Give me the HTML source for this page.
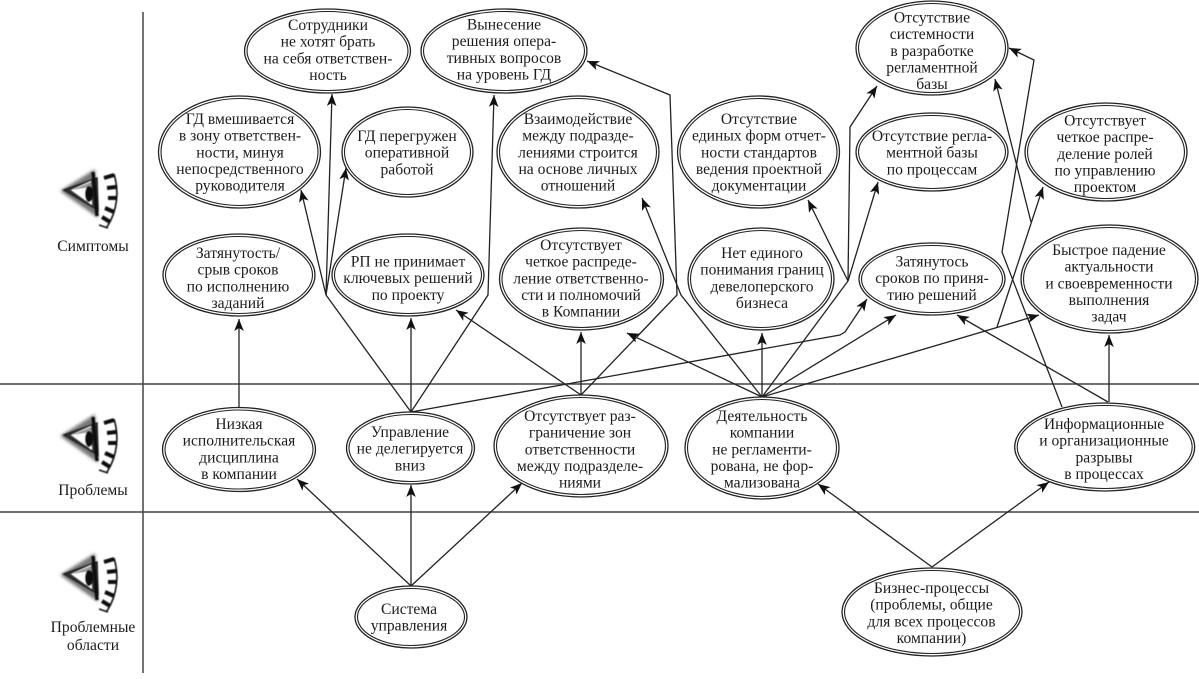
<!DOCTYPE html>
<html lang="ru"><head><meta charset="utf-8"><title>Диаграмма</title>
<style>
html,body{margin:0;padding:0;background:#fff;width:1199px;height:679px;overflow:hidden}
svg{display:block}
text{font-family:"Liberation Serif","DejaVu Serif",serif;font-size:15.6px;fill:#1c1c1c;text-anchor:middle}
.l{fill:none;stroke:#222;stroke-width:1.3}
.a{marker-end:url(#ar)}
.o{fill:#fff;stroke:#222;stroke-width:1.3}
.i{fill:none;stroke:#222;stroke-width:1.1}
.f{fill:none;stroke:#444;stroke-width:1.5}
</style></head><body>
<svg width="1199" height="679" viewBox="0 0 1199 679" xmlns="http://www.w3.org/2000/svg">
<defs>
<marker id="ar" markerUnits="userSpaceOnUse" markerWidth="15" markerHeight="12" refX="13" refY="6" orient="auto"><path d="M13,6 L1,1.2 L4,6 L1,10.8 z" fill="#111"/></marker>
<filter id="bl" x="-30%" y="-30%" width="160%" height="160%"><feGaussianBlur stdDeviation="1.5"/></filter>
<filter id="b2" x="-20%" y="-20%" width="140%" height="140%"><feGaussianBlur stdDeviation="0.55"/></filter>
<g id="eye">
<polygon points="0,19 32,-1 35,44" fill="#777" stroke="#777" stroke-width="2" filter="url(#bl)"/>
<g filter="url(#b2)">
<polygon points="2,18 35,6 36,38" fill="#333" stroke="#222" stroke-width="1.5"/>
<polygon points="9,18 29,9 30,33" fill="#fff"/>
<polygon points="10,18 29,10 29,15" fill="#999"/>
<ellipse cx="27" cy="22" rx="4" ry="8" fill="#0a0a0a"/>
<path d="M31,0 L35,44" stroke="#111" stroke-width="3.4" fill="none"/>
<path d="M42,6 L52,3 M45,16 L54,15 M46,26 L55,26 M43,36 L52,40 M40,45 L48,50" stroke="#0a0a0a" stroke-width="4" fill="none"/>
<path d="M52,2 C57,18 56,38 45,55" stroke="#111" stroke-width="1.6" fill="none"/>
<path d="M37,53 L46,56" stroke="#111" stroke-width="1.6" fill="none"/>
</g>
</g>
</defs>

<!-- frame -->
<path class="f" d="M143,12V673M0,384H1199M0,512H1199"/>

<!-- icons -->
<use href="#eye" x="62" y="172"/>
<use href="#eye" x="62" y="417"/>
<use href="#eye" x="62" y="556"/>

<text x="93" y="251">Симптомы</text>
<text x="93" y="495">Проблемы</text>
<text x="93" y="632">Проблемные</text>
<text x="93" y="650">области</text>

<!-- connectors -->
<path class="l a" d="M411,586L297,479"/>
<path class="l a" d="M411,586L411,485"/>
<path class="l a" d="M411,586L522,483"/>
<path class="l a" d="M932,567L818,484"/>
<path class="l a" d="M932,567L1049,482"/>
<path class="l a" d="M239,408L239,319"/>
<path class="l a" d="M411,412L411,318"/>
<path class="l" d="M411,412L326,295"/>
<path class="l a" d="M326,295L332,94"/>
<path class="l a" d="M326,295L346,168"/>
<path class="l a" d="M326,295L301,190"/>
<path class="l a" d="M411,412L488,295L494,95"/>
<path class="l a" d="M411,412L840,335L845,332L867,299"/>
<path class="l a" d="M581,395L581,332"/>
<path class="l a" d="M581,395L456,310"/>
<path class="l a" d="M581,395L677,295L670,95L587,61"/>
<path class="l a" d="M762,397L627,333"/>
<path class="l a" d="M762,397L762,333"/>
<path class="l a" d="M762,397L681,295L642,198"/>
<path class="l a" d="M762,397L896,315"/>
<path class="l a" d="M762,397L1039,315"/>
<path class="l" d="M762,397L848,281"/>
<path class="l a" d="M848,281L808,200"/>
<path class="l a" d="M848,281L878,182"/>
<path class="l a" d="M848,281L850,127L877,86"/>
<path class="l a" d="M997,327L1043,187"/>
<path class="l a" d="M1031,222L995,79"/>
<path class="l a" d="M1109,402L1109,335"/>
<path class="l a" d="M1108,402L957,315"/>
<path class="l a" d="M1062,407L1002,252L1034,60L1009,48"/>

<!-- ellipses -->
<ellipse class="o" cx="327.5" cy="51" rx="83" ry="42"/><ellipse class="i" cx="327.5" cy="51" rx="80.5" ry="39.5"/>
<ellipse class="o" cx="504" cy="51" rx="83" ry="42"/><ellipse class="i" cx="504" cy="51" rx="80.5" ry="39.5"/>
<ellipse class="o" cx="239.5" cy="152" rx="81" ry="56"/><ellipse class="i" cx="239.5" cy="152" rx="78.5" ry="53.5"/>
<ellipse class="o" cx="407.5" cy="152" rx="65.5" ry="45"/><ellipse class="i" cx="407.5" cy="152" rx="63" ry="42.5"/>
<ellipse class="o" cx="239" cy="275" rx="76" ry="41"/><ellipse class="i" cx="239" cy="275" rx="73.5" ry="38.5"/>
<ellipse class="o" cx="408" cy="275" rx="76" ry="41"/><ellipse class="i" cx="408" cy="275" rx="73.5" ry="38.5"/>
<ellipse class="o" cx="578" cy="152" rx="81" ry="56"/><ellipse class="i" cx="578" cy="152" rx="78.5" ry="53.5"/>
<ellipse class="o" cx="581.5" cy="279" rx="82" ry="51"/><ellipse class="i" cx="581.5" cy="279" rx="79.5" ry="48.5"/>
<ellipse class="o" cx="932" cy="48" rx="76" ry="47"/><ellipse class="i" cx="932" cy="48" rx="73.5" ry="44.5"/>
<ellipse class="o" cx="758.5" cy="152" rx="81" ry="56"/><ellipse class="i" cx="758.5" cy="152" rx="78.5" ry="53.5"/>
<ellipse class="o" cx="932" cy="152" rx="76" ry="39"/><ellipse class="i" cx="932" cy="152" rx="73.5" ry="36.5"/>
<ellipse class="o" cx="1106" cy="152" rx="81" ry="49"/><ellipse class="i" cx="1106" cy="152" rx="78.5" ry="46.5"/>
<ellipse class="o" cx="761" cy="279" rx="73" ry="51"/><ellipse class="i" cx="761" cy="279" rx="70.5" ry="48.5"/>
<ellipse class="o" cx="932" cy="279" rx="73" ry="36"/><ellipse class="i" cx="932" cy="279" rx="70.5" ry="33.5"/>
<ellipse class="o" cx="1109.5" cy="279" rx="88.5" ry="54"/><ellipse class="i" cx="1109.5" cy="279" rx="86" ry="51.5"/>
<ellipse class="o" cx="239" cy="449.5" rx="76.5" ry="42"/><ellipse class="i" cx="239" cy="449.5" rx="74" ry="39.5"/>
<ellipse class="o" cx="410.5" cy="448" rx="64" ry="36"/><ellipse class="i" cx="410.5" cy="448" rx="61.5" ry="33.5"/>
<ellipse class="o" cx="581" cy="446" rx="87" ry="51"/><ellipse class="i" cx="581" cy="446" rx="84.5" ry="48.5"/>
<ellipse class="o" cx="411" cy="617" rx="56" ry="31"/><ellipse class="i" cx="411" cy="617" rx="53.5" ry="28.5"/>
<ellipse class="o" cx="762" cy="448" rx="77" ry="51"/><ellipse class="i" cx="762" cy="448" rx="74.5" ry="48.5"/>
<ellipse class="o" cx="1104.7" cy="447" rx="90" ry="44"/><ellipse class="i" cx="1104.7" cy="447" rx="87.5" ry="41.5"/>
<ellipse class="o" cx="932" cy="612" rx="90" ry="44"/><ellipse class="i" cx="932" cy="612" rx="87.5" ry="41.5"/>

<!-- labels -->
<text y="30"><tspan x="328">Сотрудники</tspan><tspan x="328" dy="16.67">не хотят брать</tspan><tspan x="328" dy="16.67">на себя ответствен-</tspan><tspan x="328" dy="16.67">ность</tspan></text>
<text y="29.5"><tspan x="504">Вынесение</tspan><tspan x="504" dy="16.67">решения опера-</tspan><tspan x="504" dy="16.67">тивных вопросов</tspan><tspan x="504" dy="16.67">на уровень ГД</tspan></text>
<text y="124"><tspan x="240">ГД вмешивается</tspan><tspan x="240" dy="16.67">в зону ответствен-</tspan><tspan x="240" dy="16.67">ности, минуя</tspan><tspan x="240" dy="16.67">непосредственного</tspan><tspan x="240" dy="16.67">руководителя</tspan></text>
<text y="141"><tspan x="407">ГД перегружен</tspan><tspan x="407" dy="16.67">оперативной</tspan><tspan x="407" dy="16.67">работой</tspan></text>
<text y="258"><tspan x="238">Затянутость/</tspan><tspan x="238" dy="16.67">срыв сроков</tspan><tspan x="238" dy="16.67">по исполнению</tspan><tspan x="238" dy="16.67">заданий</tspan></text>
<text y="266.5"><tspan x="408">РП не принимает</tspan><tspan x="408" dy="16.67">ключевых решений</tspan><tspan x="408" dy="16.67">по проекту</tspan></text>
<text y="124"><tspan x="578">Взаимодействие</tspan><tspan x="578" dy="16.67">между подразде-</tspan><tspan x="578" dy="16.67">лениями строится</tspan><tspan x="578" dy="16.67">на основе личных</tspan><tspan x="578" dy="16.67">отношений</tspan></text>
<text y="250"><tspan x="581">Отсутствует</tspan><tspan x="581" dy="16.67">четкое распреде-</tspan><tspan x="581" dy="16.67">ление ответственно-</tspan><tspan x="581" dy="16.67">сти и полномочий</tspan><tspan x="581" dy="16.67">в Компании</tspan></text>
<text y="22.5"><tspan x="932">Отсутствие</tspan><tspan x="932" dy="16.67">системности</tspan><tspan x="932" dy="16.67">в разработке</tspan><tspan x="932" dy="16.67">регламентной</tspan><tspan x="932" dy="16.67">базы</tspan></text>
<text y="124"><tspan x="759">Отсутствие</tspan><tspan x="759" dy="16.67">единых форм отчет-</tspan><tspan x="759" dy="16.67">ности стандартов</tspan><tspan x="759" dy="16.67">ведения проектной</tspan><tspan x="759" dy="16.67">документации</tspan></text>
<text y="141"><tspan x="932">Отсутствие регла-</tspan><tspan x="932" dy="16.67">ментной базы</tspan><tspan x="932" dy="16.67">по процессам</tspan></text>
<text y="125.5"><tspan x="1105">Отсутствует</tspan><tspan x="1105" dy="16.67">четкое распре-</tspan><tspan x="1105" dy="16.67">деление ролей</tspan><tspan x="1105" dy="16.67">по управлению</tspan><tspan x="1105" dy="16.67">проектом</tspan></text>
<text y="258"><tspan x="762">Нет единого</tspan><tspan x="762" dy="16.67">понимания границ</tspan><tspan x="762" dy="16.67">девелоперского</tspan><tspan x="762" dy="16.67">бизнеса</tspan></text>
<text y="266.5"><tspan x="932">Затянутось</tspan><tspan x="932" dy="16.67">сроков по приня-</tspan><tspan x="932" dy="16.67">тию решений</tspan></text>
<text y="255"><tspan x="1109">Быстрое падение</tspan><tspan x="1109" dy="16.67">актуальности</tspan><tspan x="1109" dy="16.67">и своевременности</tspan><tspan x="1109" dy="16.67">выполнения</tspan><tspan x="1109" dy="16.67">задач</tspan></text>
<text y="429"><tspan x="239">Низкая</tspan><tspan x="239" dy="16.67">исполнительская</tspan><tspan x="239" dy="16.67">дисциплина</tspan><tspan x="239" dy="16.67">в компании</tspan></text>
<text y="437"><tspan x="410">Управление</tspan><tspan x="410" dy="16.67">не делегируется</tspan><tspan x="410" dy="16.67">вниз</tspan></text>
<text y="421"><tspan x="580">Отсутствует раз-</tspan><tspan x="580" dy="16.67">граничение зон</tspan><tspan x="580" dy="16.67">ответственности</tspan><tspan x="580" dy="16.67">между подразделе-</tspan><tspan x="580" dy="16.67">ниями</tspan></text>
<text y="614"><tspan x="409">Система</tspan><tspan x="409" dy="16.67">управления</tspan></text>
<text y="421"><tspan x="762">Деятельность</tspan><tspan x="762" dy="16.67">компании</tspan><tspan x="762" dy="16.67">не регламенти-</tspan><tspan x="762" dy="16.67">рована, не фор-</tspan><tspan x="762" dy="16.67">мализована</tspan></text>
<text y="429"><tspan x="1104">Информационные</tspan><tspan x="1104" dy="16.67">и организационные</tspan><tspan x="1104" dy="16.67">разрывы</tspan><tspan x="1104" dy="16.67">в процессах</tspan></text>
<text y="593"><tspan x="931.5">Бизнес-процессы</tspan><tspan x="931.5" dy="16.67">(проблемы, общие</tspan><tspan x="931.5" dy="16.67">для всех процессов</tspan><tspan x="931.5" dy="16.67">компании)</tspan></text>
</svg>
</body></html>
